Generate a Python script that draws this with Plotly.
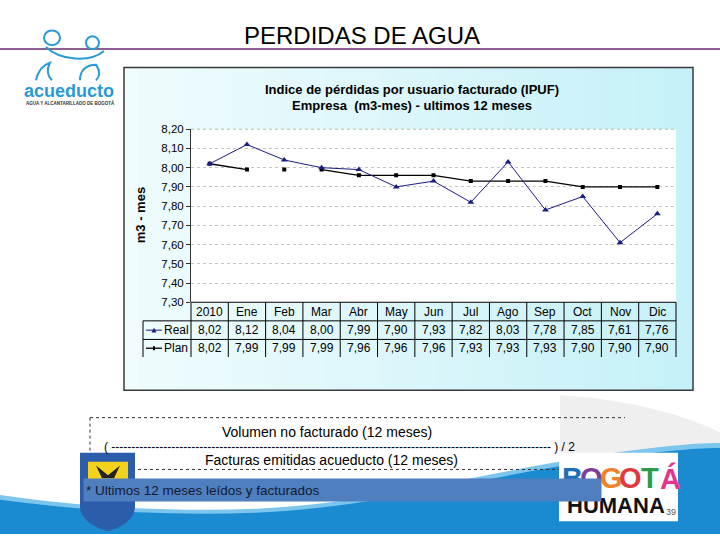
import plotly.graph_objects as go

# ---------------- data ----------------
categories = ["2010", "Ene", "Feb", "Mar", "Abr", "May", "Jun", "Jul", "Ago", "Sep", "Oct", "Nov", "Dic"]
real_values = [8.02, 8.12, 8.04, 8.00, 7.99, 7.90, 7.93, 7.82, 8.03, 7.78, 7.85, 7.61, 7.76]
plan_values = [8.02, 7.99, 7.99, 7.99, 7.96, 7.96, 7.96, 7.93, 7.93, 7.93, 7.90, 7.90, 7.90]
plan_line_break_at = ["Feb"]          # the plan line is not drawn into/out of this month
y_tick_values = [7.30, 7.40, 7.50, 7.60, 7.70, 7.80, 7.90, 8.00, 8.10, 8.20]
series_names = ["Real", "Plan"]

W, H = 720, 540
def X(p): return p / W
def Y(p): return 1 - p / H

FONT = "Arial, Liberation Sans, sans-serif"

# plot area in pixels
PX0, PX1, PY0, PY1 = 191, 676, 126, 303
ncat = len(categories)
colw = (PX1 - PX0) / ncat

shapes = []
annotations = []

def rect(x0, y0, x1, y1, fill, line=None, lw=0, layer="below"):
    shapes.append(dict(type="rect", xref="paper", yref="paper",
                       x0=X(x0), x1=X(x1), y0=Y(y1), y1=Y(y0),
                       fillcolor=fill, line=dict(color=line or "rgba(0,0,0,0)", width=lw),
                       layer=layer))

def hline(x0, x1, y, color="black", w=1, dash="solid", layer="below"):
    shapes.append(dict(type="line", xref="paper", yref="paper", x0=X(x0), x1=X(x1), y0=Y(y), y1=Y(y),
                       line=dict(color=color, width=w, dash=dash), layer=layer))

def vline(x, y0, y1, color="black", w=1, dash="solid", layer="below"):
    shapes.append(dict(type="line", xref="paper", yref="paper", x0=X(x), x1=X(x), y0=Y(y0), y1=Y(y1),
                       line=dict(color=color, width=w, dash=dash), layer=layer))

def path(pts_str, fill, line=None, lw=0, layer="below"):
    out = []
    for tok in pts_str.split():
        if "," in tok:
            a, b = tok.split(",")
            out.append(f"{X(float(a)):.5f},{Y(float(b)):.5f}")
        else:
            out.append(tok)
    shapes.append(dict(type="path", xref="paper", yref="paper", path=" ".join(out),
                       fillcolor=fill, line=dict(color=line or "rgba(0,0,0,0)", width=lw), layer=layer))

def text(x, y, s, size=12, color="black", bold=False, family=FONT, xanchor="center", **kw):
    if bold:
        s = f"<b>{s}</b>"
    annotations.append(dict(xref="paper", yref="paper", x=X(x), y=Y(y), text=s, showarrow=False,
                            font=dict(size=size, color=color, family=family),
                            xanchor=xanchor, yanchor="middle", **kw))

# ---------------- slide background decorations ----------------
path("M 560,398 C 630,402 690,420 720,436 L 720,470 L 560,470 Z", "#efefef")
path("M 0,500 C 80,512 170,518 260,514 C 380,508 480,478 600,459 C 650,452 690,447 720,447 L 720,540 L 0,540 Z", "#7cc6ee")
path("M 0,505 C 80,516 170,522 260,518 C 380,512 480,482 600,464 C 650,457 690,452 720,452 L 720,540 L 0,540 Z", "#1a8bd1")

# title + purple rule
hline(0, 720, 44, color="#6b2a6e", w=1.5, layer="above")
text(362, 30, "PERDIDAS DE AGUA", size=24, family=FONT)

# acueducto logo (approximation)
LOGO = "#2a9ad6"
shapes.append(dict(type="circle", xref="paper", yref="paper", x0=X(44), x1=X(60), y0=Y(40), y1=Y(25),
                   line=dict(color=LOGO, width=2), layer="above"))
shapes.append(dict(type="circle", xref="paper", yref="paper", x0=X(86), x1=X(99), y0=Y(44), y1=Y(31),
                   line=dict(color=LOGO, width=2), layer="above"))
path("M 46,42 C 60,56 90,58 104,46", "rgba(0,0,0,0)", line=LOGO, lw=2, layer="above")
path("M 36,76 C 38,66 44,60 50,58 C 46,66 48,72 52,76", "rgba(0,0,0,0)", line=LOGO, lw=2, layer="above")
path("M 80,76 C 80,66 86,60 96,60 C 100,66 100,72 96,76", "rgba(0,0,0,0)", line=LOGO, lw=2, layer="above")
text(69, 87, "acueducto", size=18, color=LOGO, bold=True)
text(70, 99.5, "AGUA Y ALCANTARILLADO DE BOGOTÁ", size=4.5, color="#333333", bold=True)

# ---------------- chart panel ----------------
c0 = (240, 252, 253)
c1 = (198, 241, 248)
n = 40
px0, px1, py0, py1 = 124, 693, 63, 393
for i in range(n):
    t = i / (n - 1)
    col = tuple(int(c0[k] + (c1[k] - c0[k]) * t) for k in range(3))
    xa = px0 + (px1 - px0) * i / n
    xb = px0 + (px1 - px0) * (i + 1) / n + 0.6
    rect(xa, py0, min(xb, px1), py1, f"rgb{col}")
rect(px0, py0, px1, py1, "rgba(0,0,0,0)", line="#3a3a3a", lw=1.5)
rect(PX0, PY0, PX1, PY1, "white")
hline(PX0, PX1, PY0, color="#a9c4a9", w=1, dash="dot")

# chart titles
text(412, 85, "Indice de pérdidas por usuario facturado (IPUF)", size=13, bold=True)
text(412, 102, "Empresa  (m3-mes) - ultimos 12 meses", size=13, bold=True)
annotations.append(dict(xref="paper", yref="paper", x=X(140), y=Y(214), text="<b>m3 - mes</b>",
                        showarrow=False, textangle=-90, font=dict(size=13, family=FONT, color="black"),
                        xanchor="center", yanchor="middle"))

# ---------------- data table ----------------
ROW_H, ROW_R, ROW_P, ROW_END = 303, 322, 341, 359
LBL_X = 143
hline(PX0, PX1, ROW_H, w=1.2)
hline(LBL_X, PX1, ROW_R)
hline(LBL_X, PX1, ROW_P)
vline(LBL_X, ROW_R, ROW_END)
for i in range(ncat + 1):
    vline(PX0 + colw * i, ROW_H, ROW_END)

def fmt(v):
    return f"{v:.2f}".replace(".", ",")

for i, c in enumerate(categories):
    for yy, s in [((ROW_H + ROW_R) / 2, c),
                  ((ROW_R + ROW_P) / 2, fmt(real_values[i])),
                  ((ROW_P + ROW_END) / 2, fmt(plan_values[i]))]:
        annotations.append(dict(xref="x", yref="paper", x=i, y=Y(yy), text=s,
                                showarrow=False, font=dict(size=12, family=FONT, color="black"),
                                xanchor="center", yanchor="middle"))

# legend keys inside the table
REAL_COLOR = "#1c1c86"
ry = (ROW_R + ROW_P) / 2
py_ = (ROW_P + ROW_END) / 2
hline(146, 162, ry, color=REAL_COLOR, w=1, layer="above")
path(f"M 151.5,{ry+2.5} L 156.5,{ry+2.5} L 154,{ry-2.5} Z", REAL_COLOR, layer="above")
hline(146, 162, py_, color="black", w=1.3, layer="above")
rect(153, py_ - 2, 155, py_ + 2, "black", layer="above")
text(162, ry, series_names[0], size=12, xanchor="left")
text(162, py_, series_names[1], size=12, xanchor="left")

# ---------------- formula box ----------------
hline(90, 625, 421, color="#333333", w=1, dash="dot")
vline(90, 421, 474, color="#333333", w=1, dash="dot")
hline(90, 566, 474, color="#333333", w=1, dash="dot")
text(327, 436, "Volumen no facturado (12 meses)", size=14)
text(102, 451, "( " + "-" * 110 + " ) / 2", size=12, xanchor="left")
text(331, 464, "Facturas emitidas acueducto (12 meses)", size=14)

# coat of arms (approximation)
path("M 80,457 L 135,457 L 135,512 C 135,526 118,535 108,537 C 98,535 80,526 80,512 Z", "#2b5daa", layer="above")
rect(88, 466, 128, 484, "#f2d21b", layer="above")
path("M 96,470 L 108,480 L 120,470 L 114,483 L 102,483 Z", "#222222", layer="above")

# BOGOTÁ HUMANA logo
rect(559, 457, 678, 527, "white", layer="above")
letters = [("B", "#1f6fb5"), ("O", "#7b3f98"), ("G", "#f0832a"), ("O", "#e03a3e"), ("T", "#2c9b48"), ("Á", "#e6348c")]
for k, (ch, colr) in enumerate(letters):
    text(572 + k * 19.6, 483, ch, size=29, color=colr, bold=True)
text(616, 511, "HUMANA", size=22, color="#111111", bold=True)

# footnote band (annotation so it sits above the logo)
annotations.append(dict(xref="paper", yref="paper", x=X(83), y=Y(495), xanchor="left", yanchor="middle",
                        text="* Ultimos 12 meses leídos y facturados", showarrow=False,
                        font=dict(size=13.5, family=FONT, color="#111a33"),
                        bgcolor="#4f7fbf", width=513, height=18, align="left", borderpad=2))
text(671, 517, "39", size=9, color="#555555")

# ---------------- traces ----------------
plan_line = [None if c in plan_line_break_at else v for c, v in zip(categories, plan_values)]

fig = go.Figure()
fig.add_trace(go.Scatter(x=categories, y=plan_line, mode="lines", connectgaps=False,
                         line=dict(color="black", width=1.4), showlegend=False, hoverinfo="skip"))
fig.add_trace(go.Scatter(x=categories, y=plan_values, mode="markers", name=series_names[1],
                         marker=dict(symbol="square", size=4, color="black"), showlegend=False))
fig.add_trace(go.Scatter(x=categories, y=real_values, mode="lines+markers", name=series_names[0],
                         line=dict(color=REAL_COLOR, width=1),
                         marker=dict(symbol="triangle-up", size=6, color=REAL_COLOR), showlegend=False))

fig.update_layout(
    width=W, height=H, autosize=False,
    margin=dict(l=0, r=0, t=0, b=0),
    paper_bgcolor="white", plot_bgcolor="rgba(0,0,0,0)",
    separators=", ",
    showlegend=False,
    shapes=shapes, annotations=annotations,
    xaxis=dict(domain=[X(PX0), X(PX1)], type="category", range=[-0.5, ncat - 0.5],
               showticklabels=False, showgrid=False, zeroline=False, showline=False, ticks="",
               fixedrange=True),
    yaxis=dict(domain=[Y(PY1), Y(PY0)], range=[7.30, 8.20], tickvals=y_tick_values,
               tickformat=".2f", showgrid=True, gridcolor="#c4c4c4", griddash="dot", gridwidth=1,
               zeroline=False, showline=True, linecolor="#333333", linewidth=1,
               ticks="outside", ticklen=4, tickcolor="#333333",
               tickfont=dict(size=11.5, family=FONT, color="black"), fixedrange=True),
)

fig.write_html("out.html", config={"displayModeBar": False},
               post_script="document.body.style.margin='0';document.body.style.overflow='hidden';")
